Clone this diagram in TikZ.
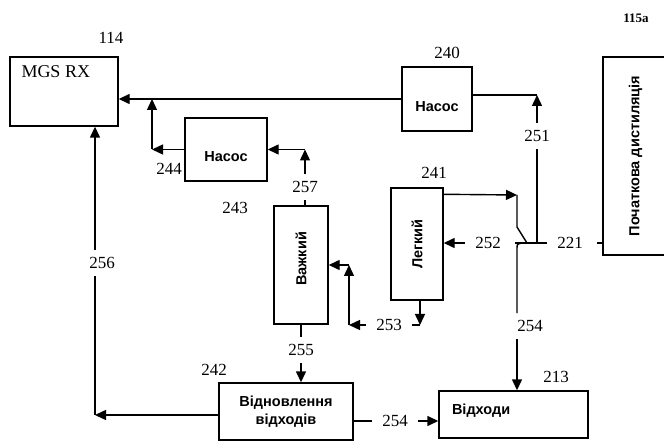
\documentclass[tikz,border=0pt]{standalone}
\usepackage{fontspec}
\setmainfont{Liberation Serif}
\setsansfont{Liberation Sans}
\usepackage{graphicx}
\usepackage{tikz}
\usetikzlibrary{arrows.meta}

\begin{document}
\begin{tikzpicture}[
    x=1pt, y=-1pt,
    unit/.style={
        draw, line width=1.4pt, rectangle,
        inner sep=0pt, align=center,
        font=\fontsize{14.5}{18}\selectfont\sffamily\bfseries
    },
    pump/.style={
        unit, minimum width=#1, text height=25pt, text depth=0pt
    },
    flow/.style={
        -{Triangle[length=11pt, width=10pt]}, line width=1.4pt
    },
    pipe/.style={
        line width=1.4pt
    },
    num/.style={
        font=\fontsize{17}{19}\selectfont, inner xsep=10pt, inner ysep=7pt
    }
]
\useasboundingbox (0,0) rectangle (664,446);

% MGS RX
\node[unit, minimum width=108pt, minimum height=69pt,
      label={[anchor=north west, inner sep=0pt, xshift=12pt, yshift=-9pt,
              font=\fontsize{18}{20}\selectfont]north west:MGS RX}] (mgs) at (64,91.5) {};

% pumps
\node[pump=70pt, minimum height=64pt] (pumpA) at (437,99) {Насос};
\node[pump=82pt, minimum height=63pt] (pumpB) at (226,149.5) {Насос};

% heavy / light
\node[unit, minimum width=54pt, minimum height=118pt] (heavy) at (301,265) {\rotatebox{90}{\hspace{12pt}Важкий}};
\node[unit, minimum width=52pt, minimum height=112pt] (light) at (417,244) {\rotatebox{90}{Легкий}};

% initial distillation
\node[unit, minimum width=65pt, minimum height=198pt] (initdist) at (635.5,156) {\rotatebox{90}{Початкова дистиляція}};

% waste recovery
\node[unit, minimum width=134pt, minimum height=57pt] (recov) at (286,411.5) {Відновлення\\відходів};

% waste
\node[unit, minimum height=47pt, text width=123pt, inner xsep=13pt,
      align=left, text depth=11pt] (waste) at (513.5,414.5) {Відходи};

% reference numbers
\node[num] (n114) at (111,38) {114};
\node[num] (n240) at (447,53) {240};
\node[num] (n241) at (434,173) {241};
\node[num] (n243) at (235,208) {243};
\node[num] (n244) at (169,169) {244};
\node[num] (n242) at (214,370) {242};
\node[num] (n213) at (556,377) {213};
\node[num, font=\fontsize{13}{15}\selectfont\bfseries] (n115a) at (636,18) {115a};

% stream labels
\node[num] (l251) at (537,136) {251};
\node[num] (l252) at (488,243) {252};
\node[num] (l221) at (570,243) {221};
\node[num] (l253) at (389,325) {253};
\node[num] (l257) at (305,187) {257};
\node[num] (l255) at (301,350) {255};
\node[num] (l256) at (102,263) {256};
\node[num] (l254a) at (530,326) {254};
\node[num] (l254b) at (395,421) {254};

\coordinate (j221) at (537,243);
\coordinate (hopL) at (515,243);
\coordinate (hopT) at (517,195);
\coordinate (hopB) at (517,249);
\coordinate (c253) at (349,325);
\coordinate (c244) at (152,149.5);
\coordinate (c256) at (95,415);

% Streams
\draw[flow] (pumpA.west) -- (pumpA.west -| mgs.east);
\draw[pipe] (j221) -- (l251.south);
\draw[flow] (l251.north) -- ([yshift=4pt]pumpA.east -| l251);
\draw[pipe] ([yshift=4pt]pumpA.east -| l251) -- ([yshift=4pt]pumpA.east);

\draw[pipe] (l221.west) -- (hopL);
\draw[pipe] (initdist.west |- l221) -- ++(-5,0);
\draw[flow] (l252.west) -- (l252.west -| light.east);

\draw[flow] ([yshift=-7pt]light.north east) -- (hopT);
\draw[pipe] (hopT) -- (517,227) -- (527,243);
\draw[pipe] (522,243) .. controls (517,244) .. (hopB) -- (hopB |- l254a.north);
\draw[flow] (hopB |- l254a.south) -- (hopB |- waste.north);

\draw[flow] ([xshift=3pt]light.south) -- ([xshift=3pt]light.south |- l253);
\draw[pipe] ([xshift=3pt]light.south |- l253) -- (l253.east);
\draw[flow] (l253.west) -- (c253);
\draw[flow] (c253) -- (c253 |- heavy.east);
\draw[flow] (c253 |- heavy.east) -- (heavy.east);

\draw[pipe] (heavy.north -| l257) -- (l257.south);
\draw[flow] (l257.north) -- (l257.north |- pumpB.east);
\draw[flow] (l257.north |- pumpB.east) -- (pumpB.east);

\draw[flow] (pumpB.west) -- (c244);
\draw[flow] (c244) -- (c244 |- pumpA.west);

\draw[pipe] (heavy.south) -- (l255.north);
\draw[flow] (l255.south) -- (l255.south |- recov.north);

\draw[flow] (recov.west |- c256) -- (c256);
\draw[pipe] (c256) -- (c256 |- l256.south);
\draw[flow] (c256 |- l256.north) -- (c256 |- mgs.south);

\draw[pipe] (recov.east |- l254b) -- (l254b.west);
\draw[flow] (l254b.east) -- (waste.west |- l254b);

\end{tikzpicture}
\end{document}
